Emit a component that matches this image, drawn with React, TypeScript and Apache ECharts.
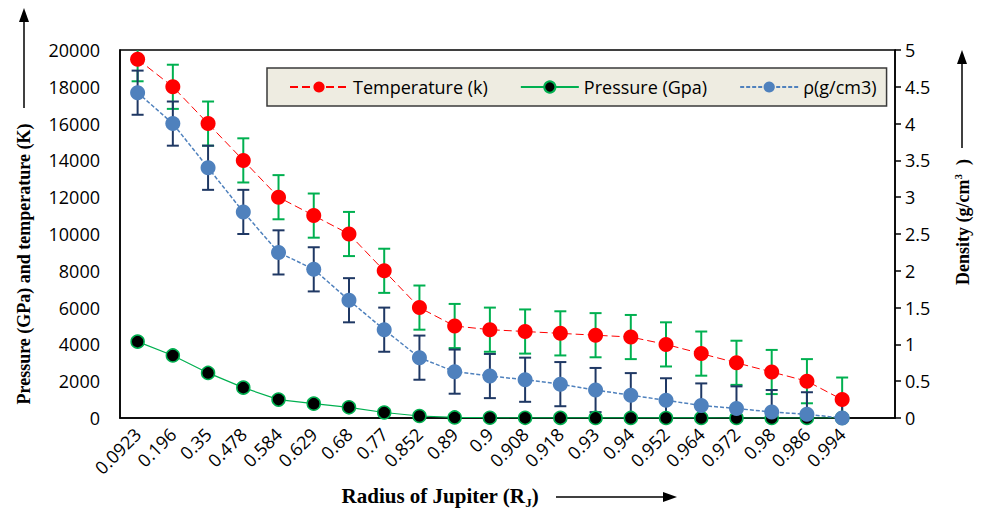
import React, { useEffect, useRef } from "react";
import * as echarts from "echarts";

const categories = ["0.0923", "0.196", "0.35", "0.478", "0.584", "0.629", "0.68", "0.77", "0.852", "0.89", "0.9", "0.908", "0.918", "0.93", "0.94", "0.952", "0.964", "0.972", "0.98", "0.986", "0.994", ""];
const temperature = [19500, 18000, 16000, 14000, 12000, 11000, 10000, 8000, 6000, 5000, 4800, 4700, 4600, 4500, 4400, 4000, 3500, 3000, 2500, 2000, 1000];
const temperatureErr = [1200, 1200, 1200, 1200, 1200, 1200, 1200, 1200, 1200, 1200, 1200, 1200, 1200, 1200, 1200, 1200, 1200, 1200, 1200, 1200, 1200];
const pressure = [4150, 3400, 2450, 1650, 1000, 780, 580, 300, 110, 30, 15, 10, 6, 5, 3, 2, 2, 1, 1, 1, 0];
const density = [4.42, 4.0, 3.4, 2.8, 2.25, 2.02, 1.6, 1.2, 0.82, 0.63, 0.57, 0.52, 0.46, 0.38, 0.31, 0.24, 0.17, 0.13, 0.08, 0.05, 0.0];
const densityErr = [0.3, 0.3, 0.3, 0.3, 0.3, 0.3, 0.3, 0.3, 0.3, 0.3, 0.3, 0.3, 0.3, 0.3, 0.3, 0.3, 0.3, 0.3, 0.3, 0.3, 0.3];
const leftTicks = { min: 0, max: 20000, interval: 2000 };
const rightTicks = { min: 0, max: 5, interval: 0.5 };

const TICK_FONT = "Open Sans";
const SERIF = "Liberation Serif";

function errorBarRender(color: string) {
  return (params: any, api: any) => {
    const cs = params.coordSys;
    const i = api.value(0);
    const v = api.value(1);
    const e = api.value(2);
    const c = api.coord([i, v]);
    let yTop = api.coord([i, v + e])[1];
    let yBot = api.coord([i, v - e])[1];
    const x = c[0];
    const capW = 6;
    const children: any[] = [];
    const topClipped = yTop < cs.y;
    const botClipped = yBot > cs.y + cs.height;
    if (topClipped) yTop = cs.y;
    if (botClipped) yBot = cs.y + cs.height;
    const st = { stroke: color, lineWidth: 2 };
    children.push({ type: "line", shape: { x1: x, y1: yTop, x2: x, y2: yBot }, style: st });
    if (!topClipped) children.push({ type: "line", shape: { x1: x - capW, y1: yTop, x2: x + capW, y2: yTop }, style: st });
    if (!botClipped) children.push({ type: "line", shape: { x1: x - capW, y1: yBot, x2: x + capW, y2: yBot }, style: st });
    return { type: "group", children };
  };
}

export default function App() {
  const ref = useRef<HTMLDivElement>(null);
  useEffect(() => {
    if (!ref.current) return;
    const chart = echarts.init(ref.current, undefined, { renderer: "svg" });
    const option: any = {
      animation: false,
      backgroundColor: "#fff",
      grid: { left: 120, right: 86, top: 50, bottom: 95, show: true, borderColor: "#000", borderWidth: 1.5, backgroundColor: "transparent" },
      legend: {
        data: ["Temperature (k)", "Pressure (Gpa)", "ρ(g/cm3)"],
        left: 267,
        top: 68,
        padding: [10, 10, 10, 22],
        itemWidth: 58,
        itemHeight: 14,
        itemGap: 32,
        backgroundColor: "#EEECE1",
        borderColor: "#3a3a3a",
        borderWidth: 1.5,
        textStyle: { fontFamily: TICK_FONT, fontSize: 18, color: "#000" },
      },
      xAxis: {
        type: "category",
        data: categories,
        boundaryGap: true,
        axisLine: { show: true, lineStyle: { color: "#000", width: 1.5 } },
        axisTick: { show: false },
        axisLabel: { interval: 0, rotate: 45, color: "#000", fontFamily: TICK_FONT, fontSize: 18, margin: 13 },
        splitLine: { show: false },
      },
      yAxis: [
        {
          type: "value",
          ...leftTicks,
          axisLine: { show: true, lineStyle: { color: "#000", width: 1.5 } },
          axisTick: { show: false },
          axisLabel: { color: "#000", fontFamily: TICK_FONT, fontSize: 18, margin: 20, formatter: (v: number) => String(v) },
          splitLine: { show: false },
        },
        {
          type: "value",
          ...rightTicks,
          position: "right",
          axisLine: { show: true, lineStyle: { color: "#000", width: 1.5 } },
          axisTick: { show: true, inside: false, length: 6, lineStyle: { color: "#000", width: 1.5 } },
          axisLabel: { color: "#000", fontFamily: TICK_FONT, fontSize: 18, margin: 10 },
          splitLine: { show: false },
        },
      ],
      series: [
        {
          type: "custom",
          name: "tempErr",
          yAxisIndex: 0,
          renderItem: errorBarRender("#00B050"),
          data: temperature.map((v, i) => [i, v, temperatureErr[i]]),
          z: 2,
        },
        {
          type: "custom",
          name: "densErr",
          yAxisIndex: 1,
          renderItem: errorBarRender("#1F3864"),
          data: density.map((v, i) => [i, v, densityErr[i]]),
          z: 2,
        },
        {
          type: "line",
          name: "Temperature (k)",
          yAxisIndex: 0,
          data: temperature,
          symbol: "circle",
          symbolSize: 15,
          itemStyle: { color: "#FF0000" },
          lineStyle: { color: "#FF0000", width: 1, type: [8, 4] },
          z: 4,
        },
        {
          type: "line",
          name: "Pressure (Gpa)",
          yAxisIndex: 0,
          data: pressure,
          symbol: "circle",
          symbolSize: 13,
          itemStyle: { color: "#000", borderColor: "#00B050", borderWidth: 1.5 },
          lineStyle: { color: "#00B050", width: 1.2 },
          z: 3,
        },
        {
          type: "line",
          name: "ρ(g/cm3)",
          yAxisIndex: 1,
          data: density,
          symbol: "circle",
          symbolSize: 15,
          itemStyle: { color: "#4F81BD" },
          lineStyle: { color: "#4F81BD", width: 1.5, type: [4, 2] },
          z: 5,
        },
      ],
      graphic: [
        {
          type: "text",
          x: 24,
          y: 264,
          rotation: Math.PI / 2,
          style: { text: "Pressure (GPa) and temperature (K)", fontFamily: SERIF, fontWeight: "bold", fontSize: 18, fill: "#000", align: "center", verticalAlign: "middle" },
        },
        { type: "line", shape: { x1: 24, y1: 108, x2: 24, y2: 20 }, style: { stroke: "#000", lineWidth: 1.5 } },
        { type: "polygon", shape: { points: [[24, 8], [19, 22], [29, 22]] }, style: { fill: "#000" } },
        {
          type: "text",
          x: 962,
          y: 222,
          rotation: Math.PI / 2,
          style: {
            text: "{a|Density (g/cm}{s|3}{a|  )}",
            align: "center",
            verticalAlign: "middle",
            rich: {
              a: { fontFamily: SERIF, fontWeight: "bold", fontSize: 18, fill: "#000", lineHeight: 20, verticalAlign: "bottom" },
              s: { fontFamily: SERIF, fontWeight: "bold", fontSize: 11, fill: "#000", lineHeight: 20, verticalAlign: "top" },
            },
          },
        },
        { type: "line", shape: { x1: 962, y1: 148, x2: 962, y2: 62 }, style: { stroke: "#000", lineWidth: 1.5 } },
        { type: "polygon", shape: { points: [[962, 50], [957, 64], [967, 64]] }, style: { fill: "#000" } },
        {
          type: "text",
          x: 440,
          y: 497,
          style: {
            text: "{a|Radius of Jupiter (R}{s|J}{a|)}",
            align: "center",
            verticalAlign: "middle",
            rich: {
              a: { fontFamily: SERIF, fontWeight: "bold", fontSize: 21, fill: "#000", lineHeight: 24, verticalAlign: "top" },
              s: { fontFamily: SERIF, fontWeight: "bold", fontSize: 13, fill: "#000", lineHeight: 24, verticalAlign: "bottom" },
            },
          },
        },
        { type: "line", shape: { x1: 556, y1: 497, x2: 665, y2: 497 }, style: { stroke: "#000", lineWidth: 1.5 } },
        { type: "polygon", shape: { points: [[677, 497], [663, 492], [663, 502]] }, style: { fill: "#000" } },
      ],
    };
    chart.setOption(option);
    return () => chart.dispose();
  }, []);
  return <div ref={ref} style={{ width: 981, height: 513, position: "absolute", left: 0, top: 0 }} />;
}
